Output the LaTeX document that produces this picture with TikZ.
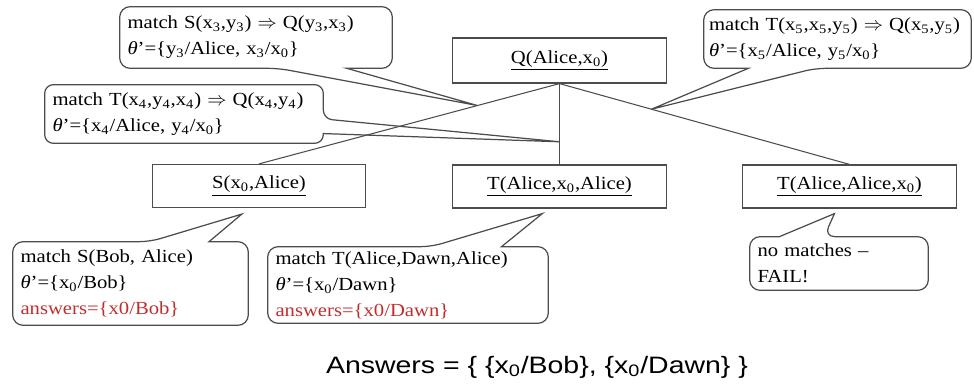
\documentclass[tikz,border=0pt]{standalone}
\usepackage{fontspec}
\setmainfont{Liberation Serif}[FakeStretch=1.12]
\newfontfamily\answerfont{Liberation Sans}[FakeStretch=1.2]
\usetikzlibrary{calc}
\definecolor{lineColor}{rgb}{0.3,0.3,0.3}
\definecolor{answerRed}{rgb}{0.75,0.18,0.18}
\newcommand{\ix}[1]{\textsubscript{#1}}

\begin{document}
\begin{tikzpicture}[x=0.02cm,y=-0.02cm]

            \tikzstyle{goalBox} = [draw=lineColor, line width=0.7pt, minimum width=4.27cm, minimum height=0.86cm, inner sep=0pt, font=\fontsize{10.5}{13}\selectfont];
            \tikzstyle{treeEdge} = [lineColor, line width=0.6pt];
            \tikzstyle{bubbleText} = [align=left, inner xsep=0.15cm, inner ysep=0pt, font=\fontsize{10.5}{14.8}\selectfont];
            \tikzstyle{bubbleEdge} = [draw=lineColor, line width=0.7pt];

            \useasboundingbox (0,0) rectangle (974,385);

            % goals
            \node[goalBox, minimum height=0.9cm] (q) at (559.5,60.5) {\underline{Q(Alice,x\ix{0})}};
            \node[goalBox] (s)  at (259,186)   {\underline{S(x\ix{0},Alice)}};
            \node[goalBox] (ta) at (559.5,186.5) {\underline{T(Alice,x\ix{0},Alice)}};
            \node[goalBox] (tb) at (849.5,186.5) {\underline{T(Alice,Alice,x\ix{0})}};

            \draw[treeEdge] (q.south) -- (s.north);
            \draw[treeEdge] (q.south) -- (ta.north);
            \draw[treeEdge] (q.south) -- (tb.north);

            % callouts
            \node[bubbleText, text width=5.14cm, minimum height=1.22cm] (c1) at (256,37.5)
                {match S(x\ix{3},y\ix{3}) $\Rightarrow$ Q(y\ix{3},x\ix{3})\\ \textit{θ}'=\{y\ix{3}/Alice, x\ix{3}/x\ix{0}\}};
            \node[bubbleText, text width=5.26cm, minimum height=1.16cm] (c2) at (184,114)
                {match T(x\ix{4},y\ix{4},x\ix{4}) $\Rightarrow$ Q(x\ix{4},y\ix{4})\\ \textit{θ}'=\{x\ix{4}/Alice, y\ix{4}/x\ix{0}\}};
            \node[bubbleText, inner xsep=0.1cm, text width=5.14cm, minimum height=1.16cm] (c3) at (837.5,39)
                {match T(x\ix{5},x\ix{5},y\ix{5}) $\Rightarrow$ Q(x\ix{5},y\ix{5})\\ \textit{θ}'=\{x\ix{5}/Alice, y\ix{5}/x\ix{0}\}};
            \node[bubbleText, text width=4.40cm, minimum height=1.66cm] (c4) at (130.5,283.5)
                {match S(Bob, Alice)\\ \textit{θ}'=\{x\ix{0}/Bob\}\\ \textcolor{answerRed}{answers=\{x0/Bob\}}};
            \node[bubbleText, text width=5.30cm, minimum height=1.52cm] (c5) at (408,285)
                {match T(Alice,Dawn,Alice)\\ \textit{θ}'=\{x\ix{0}/Dawn\}\\ \textcolor{answerRed}{answers=\{x0/Dawn\}}};
            \node[bubbleText, text width=3.26cm, minimum height=1.06cm] (c6) at (839,263.5)
                {no matches --\\ FAIL!};

            \coordinate (t1) at ($(q.south)!0.273!(s.north)$);
            \coordinate (t2) at ($(q.south)!0.72!(ta.north)$);
            \coordinate (t3) at ($(q.south)!0.317!(tb.north)$);
            \coordinate (t4) at ($(s.south west)!0.42!(s.south east)+(0,6)$);
            \coordinate (t5) at ($(ta.south west)!0.42!(ta.south east)+(0,5)$);
            \coordinate (t6) at ($(tb.south west)!0.43!(tb.south east)+(0,5)$);

            \draw[bubbleEdge] (t1) -- ($(c1.south west)!10/12!(c1.south east)$) [rounded corners=6pt]
                -- (c1.south east) -- (c1.north east) -- (c1.north west) -- (c1.south west)
                -- ($(c1.south west)!7/12!(c1.south east)$) [sharp corners] -- cycle;
            \draw[bubbleEdge] (t2) -- ($(c2.north east)!10/12!(c2.south east)$) [rounded corners=5pt]
                -- (c2.south east) -- (c2.south west) -- (c2.north west) -- (c2.north east)
                -- ($(c2.north east)!7/12!(c2.south east)$) [sharp corners] -- cycle;
            \draw[bubbleEdge] (t3) -- ($(c3.south west)!2/12!(c3.south east)$) [rounded corners=6pt]
                -- (c3.south west) -- (c3.north west) -- (c3.north east) -- (c3.south east)
                -- ($(c3.south west)!5/12!(c3.south east)$) [sharp corners] -- cycle;
            \draw[bubbleEdge] (t4) -- ($(c4.north west)!10/12!(c4.north east)$) [rounded corners=6pt]
                -- (c4.north east) -- (c4.south east) -- (c4.south west) -- (c4.north west)
                -- ($(c4.north west)!7/12!(c4.north east)$) [sharp corners] -- cycle;
            \draw[bubbleEdge] (t5) -- ($(c5.north west)!10/12!(c5.north east)$) [rounded corners=6pt]
                -- (c5.north east) -- (c5.south east) -- (c5.south west) -- (c5.north west)
                -- ($(c5.north west)!7/12!(c5.north east)$) [sharp corners] -- cycle;
            \draw[bubbleEdge] (t6) -- ($(c6.north west)!2/12!(c6.north east)$) [rounded corners=6pt]
                -- (c6.north west) -- (c6.south west) -- (c6.south east) -- (c6.north east)
                -- ($(c6.north west)!5/12!(c6.north east)$) [sharp corners] -- cycle;

            \node[font=\answerfont\fontsize{13.5}{16}\selectfont, anchor=base] (ans) at (537,373)
                {Answers = \{ \{x\ix{0}/Bob\}, \{x\ix{0}/Dawn\} \}};
\end{tikzpicture}
\end{document}
